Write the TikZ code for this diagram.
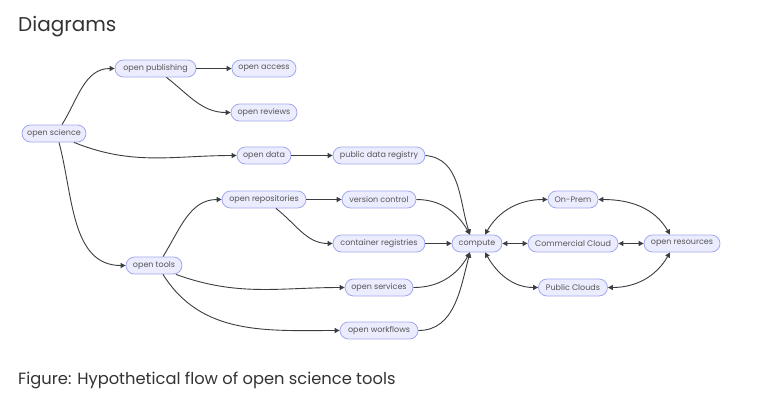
\documentclass[tikz,border=0pt]{standalone}
\usepackage{fontspec}
\setmainfont{Poppins}
\usetikzlibrary{arrows.meta}
\definecolor{nodefill}{HTML}{ECECFF}
\definecolor{nodeline}{HTML}{A3A9EC}
\definecolor{txt}{HTML}{555555}
\definecolor{edgecol}{HTML}{3A3D42}
\definecolor{titlecol}{HTML}{333333}
\begin{document}
\begin{tikzpicture}[x=1pt,y=-1pt,
  box/.style={draw=nodeline, fill=nodefill, rounded corners=8.5pt, minimum height=17pt, inner xsep=2pt, inner ysep=0pt, font=\fontsize{8}{9}\selectfont, text=txt, line width=0.8pt},
  link/.style={draw=edgecol, line width=0.9pt, -{Triangle[length=5pt,width=5pt]}},
  blink/.style={draw=edgecol, line width=0.9pt, {Triangle[length=5pt,width=5pt]}-{Triangle[length=5pt,width=5pt]}}]
\useasboundingbox[fill=white] (0,0) rectangle (760,405);
\node[anchor=base west, font=\fontsize{20}{24}\selectfont, text=titlecol, inner sep=0pt] (title) at (18,31) {Diagrams};
\node[anchor=base west, font=\fontsize{16.3}{19}\selectfont, text=titlecol, inner sep=0pt] (caption) at (18,384) {Figure: Hypothetical flow of open science tools};

\node[box, minimum width=64pt] (os) at (54,133.5) {open science};
\node[box, minimum width=81pt] (op) at (155.5,68.5) {open publishing};
\node[box, minimum width=64pt] (oa) at (264,68.5) {open access};
\node[box, minimum width=66pt] (orv) at (264,112.5) {open reviews};
\node[box, minimum width=54pt] (od) at (264,155.5) {open data};
\node[box, minimum width=92pt] (pdr) at (379,155.5) {public data registry};
\node[box, minimum width=84pt] (orp) at (264,199.5) {open repositories};
\node[box, minimum width=74pt] (vc) at (379,199.5) {version control};
\node[box, minimum width=92pt] (cr) at (379,243.5) {container registries};
\node[box, minimum width=56pt] (ot) at (154,265.5) {open tools};
\node[box, minimum width=68pt] (osv) at (379,287.5) {open services};
\node[box, minimum width=78pt] (ow) at (379,330.5) {open workflows};
\node[box, minimum width=50pt] (comp) at (477,243.5) {compute};
\node[box, minimum width=50pt] (onp) at (573,199.5) {On-Prem};
\node[box, minimum width=90pt] (cc) at (573,243.5) {Commercial Cloud};
\node[box, minimum width=69pt] (pc) at (573,287.5) {Public Clouds};
\node[box, minimum width=76pt] (ores) at (682,243.5) {open resources};

\draw[link] ([xshift=8pt]os.north) to[out=58,in=180] (op.west);
\draw[link] ([xshift=20pt]os.south) to[out=-22,in=180] (od.west);
\draw[link] ([xshift=5pt]os.south) to[out=-75,in=180] (ot.west);
\draw[link] (op) -- (oa);
\draw[link] ([xshift=11pt]op.south) to[out=-38,in=180] (orv.west);
\draw[link] (od) -- (pdr);
\draw[link] (pdr.east) to[out=-5,in=108] ([xshift=-7pt]comp.north);
\draw[link] ([xshift=9pt]ot.north) to[out=58,in=180] (orp.west);
\draw[link] ([xshift=22pt]ot.south) to[out=-20,in=180] (osv.west);
\draw[link] ([xshift=9pt]ot.south) to[out=-58,in=180] (ow.west);
\draw[link] (orp) -- (vc);
\draw[link] ([xshift=12pt]orp.south) to[out=-38,in=180] (cr.west);
\draw[link] (vc.east) to[out=0,in=120] ([xshift=-7pt]comp.north);
\draw[link] (cr) -- (comp);
\draw[link] (osv.east) to[out=0,in=-120] ([xshift=-7pt]comp.south);
\draw[link] (ow.east) to[out=0,in=-105] ([xshift=-7pt]comp.south);
\draw[blink] ([xshift=8pt]comp.north) to[out=60,in=180] (onp.west);
\draw[blink] (comp) -- (cc);
\draw[blink] ([xshift=8pt]comp.south) to[out=-60,in=180] (pc.west);
\draw[blink] (onp.east) to[out=0,in=120] ([xshift=-12pt]ores.north);
\draw[blink] (cc) -- (ores);
\draw[blink] (pc.east) to[out=0,in=-120] ([xshift=-12pt]ores.south);
\end{tikzpicture}
\end{document}
